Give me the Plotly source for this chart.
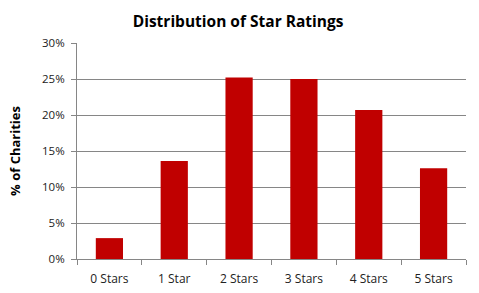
import plotly.graph_objects as go

categories = ["0 Stars", "1 Star", "2 Stars", "3 Stars", "4 Stars", "5 Stars"]
values = [0.029, 0.136, 0.252, 0.250, 0.207, 0.126]
y_ticks = [0, 0.05, 0.10, 0.15, 0.20, 0.25, 0.30]
y_tick_labels = ["0%", "5%", "10%", "15%", "20%", "25%", "30%"]

fig = go.Figure(go.Bar(x=categories, y=values, marker=dict(color="#C00000", line=dict(width=0))))

fig.update_layout(
    width=479, height=293,
    margin=dict(l=77, r=13, t=43, b=34),
    paper_bgcolor="white", plot_bgcolor="white",
    bargap=0.58,
    showlegend=False,
    font=dict(family="Open Sans, sans-serif", size=11, color="#222222"),
    title=dict(text="<b>Distribution of Star Ratings</b>", x=0.497, xanchor="center",
               y=0.925, yanchor="middle",
               font=dict(family="Open Sans, sans-serif", size=15.5, color="black")),
)
fig.update_xaxes(
    showline=True, linecolor="#868686", linewidth=1,
    ticks="outside", tickson="boundaries", ticklen=5, tickcolor="#868686",
    showgrid=False, tickfont=dict(size=12), ticklabelstandoff=9, automargin=False,
)
fig.update_yaxes(
    range=[0, 0.30], tickvals=y_ticks, ticktext=y_tick_labels,
    showline=True, linecolor="#868686", linewidth=1,
    ticks="outside", ticklen=5, tickcolor="#868686",
    showgrid=True, gridcolor="#868686", gridwidth=1, zeroline=False,
    tickfont=dict(size=11.5), ticklabelstandoff=4, automargin=False,
    title=dict(text="<b>% of Charities</b>", font=dict(size=13, color="black"), standoff=18),
)
fig.write_html("out.html")
